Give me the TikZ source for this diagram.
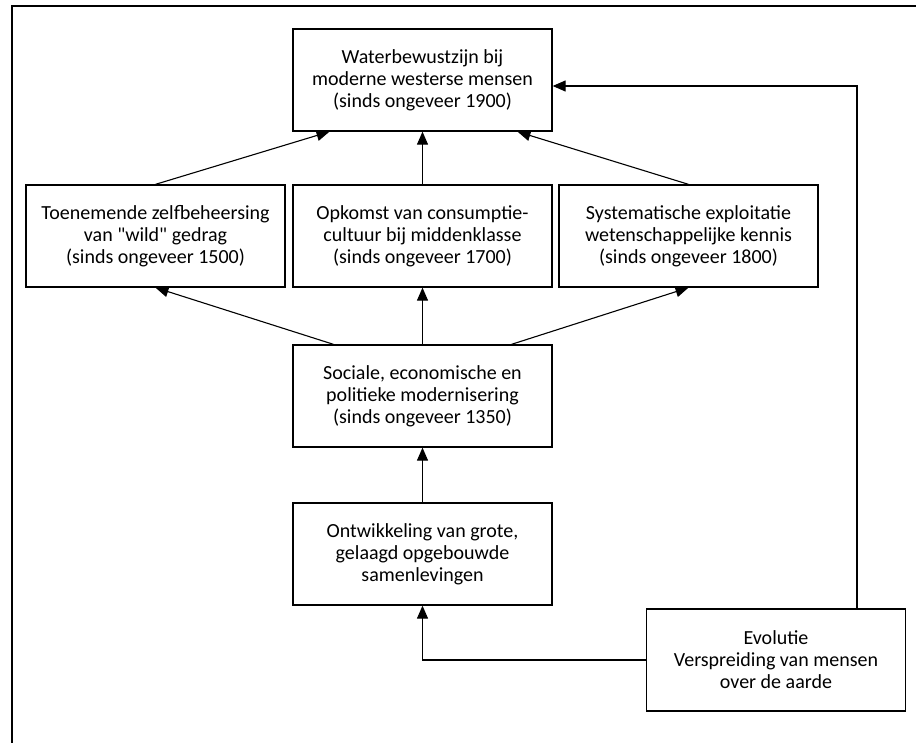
\documentclass[tikz,border=0pt]{standalone}
\usepackage{fontspec}
\setmainfont{Carlito}[Ligatures=TeXOff]
\usepackage{tikz}
\usetikzlibrary{positioning, arrows.meta}

\tikzset{
    blok/.style={draw, line width=1.3pt, minimum width=259pt, minimum height=102pt,
        inner sep=0pt, align=center, font=\fontsize{20}{22}\selectfont},
    pijl/.style={-{Triangle[length=13pt, width=11pt]}, line width=1.1pt},
}

\begin{document}
\begin{tikzpicture}[x=1pt, y=-1pt]
        \useasboundingbox (0,0) rectangle (916,743);
        \draw [line width=2.2pt] (12,743) -- (12,6) -- (916,6);

        \node [blok] (W) at (422.5, 80) {Waterbewustzijn bij\\moderne westerse mensen\\(sinds ongeveer 1900)};
        \node [blok] (T) at (155.5, 236) {Toenemende zelfbeheersing\\van "wild" gedrag\\(sinds ongeveer 1500)};
        \node [blok] (O) at (422.5, 236) {Opkomst van consumptie-\\cultuur bij middenklasse\\(sinds ongeveer 1700)};
        \node [blok] (S) at (688.5, 236) {Systematische exploitatie\\wetenschappelijke kennis\\(sinds ongeveer 1800)};
        \node [blok] (M) at (422.5, 396) {Sociale, economische en\\politieke modernisering\\(sinds ongeveer 1350)};
        \node [blok] (G) at (422.5, 554) {Ontwikkeling van grote,\\gelaagd opgebouwde\\samenlevingen};
        \node [blok] (E) at (776, 660) {Evolutie\\Verspreiding van mensen\\over de aarde};

        \draw [pijl] (T.north) -- ([xshift=-93pt]W.south);
        \draw [pijl] (O) -- (W);
        \draw [pijl] (S.north) -- ([xshift=95pt]W.south);

        \draw [pijl] ([xshift=-89pt]M.north) -- (T.south);
        \draw [pijl] (M) -- (O);
        \draw [pijl] ([xshift=89pt]M.north) -- (S.south);

        \draw [pijl] (G) -- (M);
        \draw [pijl] (E.west) -| (G.south);
        \draw [pijl] ([xshift=81pt]E.north) |- ([yshift=-6pt]W.east);
    \end{tikzpicture}
\end{document}
